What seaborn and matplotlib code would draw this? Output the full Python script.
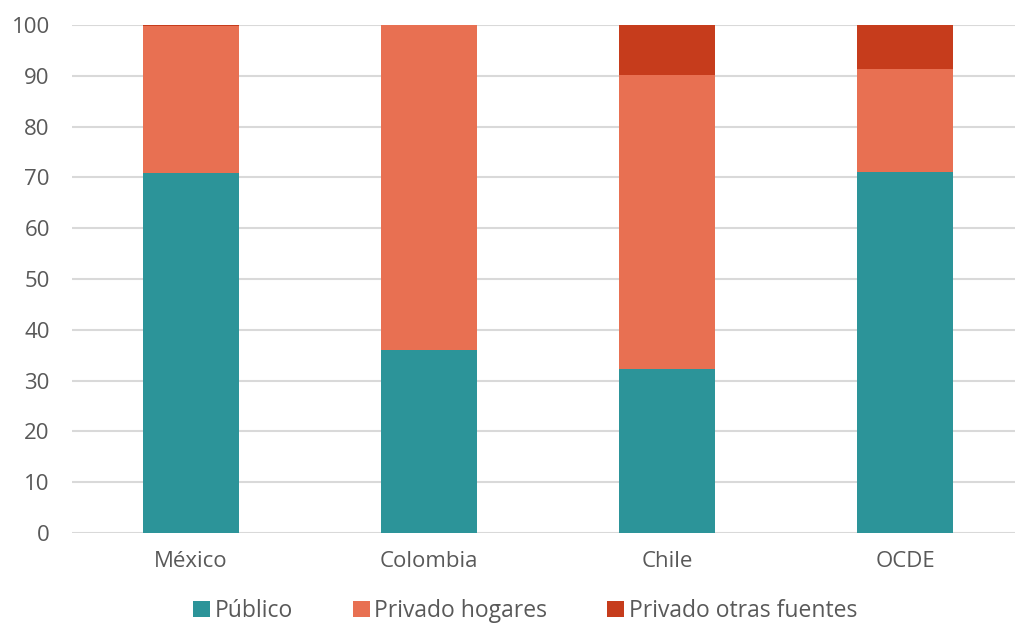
import matplotlib
matplotlib.use("Agg")
import matplotlib.pyplot as plt
import seaborn as sns
import pandas as pd
import numpy as np
from matplotlib.patches import Patch

categories = ["México", "Colombia", "Chile", "OCDE"]
publico = [70.9, 36.1, 32.3, 71.0]
privado_hogares = [28.9, 63.9, 57.8, 20.3]
privado_otras = [0.2, 0.0, 9.9, 8.7]
series_names = ["Público", "Privado hogares", "Privado otras fuentes"]
colors = ["#2C9499", "#E87052", "#C63C1C"]
yticks = [0, 10, 20, 30, 40, 50, 60, 70, 80, 90, 100]

sns.set_theme(style="white")
plt.rcParams['font.family'] = ['Open Sans', 'DejaVu Sans']

fig = plt.figure(figsize=(10.15, 6.24), dpi=100)
ax = fig.add_axes([72/1015, 1-533/624, 1-72/1015, (533-25)/624])

df = pd.DataFrame({"cat": categories, "p": publico, "h": privado_hogares, "o": privado_otras})
bottoms = np.zeros(len(categories))
width = 96/238
for col, name, c in zip(["p", "h", "o"], series_names, colors):
    sns.barplot(data=df, x="cat", y=col, color=c, width=width, bottom=bottoms,
                ax=ax, saturation=1, edgecolor="none", linewidth=0, zorder=3)
    bottoms = bottoms + df[col].values

ax.set_ylim(0, 100)
ax.set_xlim(-0.5, 3.5 - 9/238)
ax.set_yticks(yticks)
ax.set_xlabel("")
ax.set_ylabel("")
ax.yaxis.grid(True, color="#D9D9D9", linewidth=1.5, zorder=0)
ax.set_axisbelow(True)
for s in ax.spines.values():
    s.set_visible(False)
ax.tick_params(axis="both", length=0, labelsize=16, labelcolor="#595959")
ax.tick_params(axis="y", pad=16)
ax.tick_params(axis="x", pad=13)

handles = [Patch(facecolor=c, edgecolor="none") for c in colors]
fig.legend(handles, series_names, loc="center", bbox_to_anchor=(525/1015, 1-611/624),
           ncol=3, frameon=False, fontsize=16.5, handlelength=0.75, handleheight=0.75,
           handletextpad=0.2, columnspacing=2.6, labelcolor="#595959")

fig.savefig("out.png", dpi=100)
